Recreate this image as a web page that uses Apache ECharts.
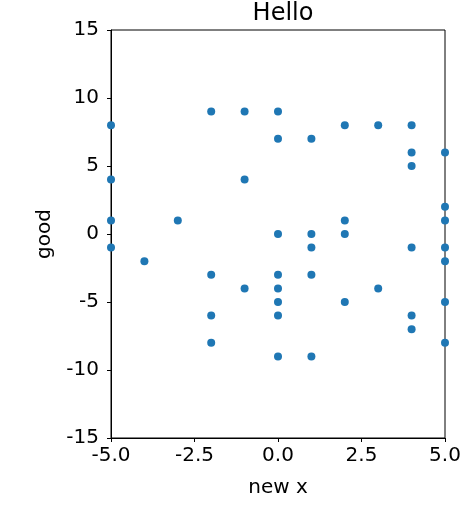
<!DOCTYPE html>
<html><head><meta charset="utf-8">
<script src="https://cdn.jsdelivr.net/npm/echarts@6/dist/echarts.min.js"></script>
<style>html,body{margin:0;padding:0;background:#fff}#c{width:469px;height:511px}</style>
</head><body><div id="c"></div>
<script>
const xValues = [-5,-5,-5,-5,-4,-3,-2,-2,-2,-2,-1,-1,-1,0,0,0,0,0,0,0,0,1,1,1,1,1,2,2,2,2,3,3,4,4,4,4,4,4,5,5,5,5,5,5,5];
const yValues = [8,4,1,-1,-2,1,9,-3,-6,-8,9,4,-4,9,7,0,-3,-4,-5,-6,-9,7,0,-1,-3,-9,8,1,0,-5,8,-4,8,6,5,-1,-6,-7,6,2,1,-1,-2,-5,-8];
const xTicks = [-5,-2.5,0,2.5,5];
const yTicks = [-15,-10,-5,0,5,10,15];
const chart = echarts.init(document.getElementById('c'));
const font = 'DejaVu Sans';
chart.setOption({
  animation:false,
  title:{text:'Hello',left:278,top:-3,textAlign:'center',textStyle:{fontFamily:font,fontSize:24,fontWeight:'normal',color:'#000'}},
  grid:{left:111,right:24,top:30,bottom:73,show:true,borderColor:'#000',borderWidth:1},
  xAxis:{type:'value',min:-5,max:5,interval:2.5,name:'new x',nameLocation:'middle',nameGap:40,
    nameTextStyle:{fontFamily:font,fontSize:20,color:'#000'},
    axisLine:{onZero:false,lineStyle:{color:'#000'}},axisTick:{show:true,inside:false,length:4,lineStyle:{color:'#000'}},
    axisLabel:{fontFamily:font,fontSize:20,color:'#000',margin:8,formatter:v=>v.toFixed(1),showMinLabel:true,showMaxLabel:true},
    splitLine:{show:false}},
  yAxis:{type:'value',min:-15,max:15,interval:5,name:'good',nameLocation:'middle',nameGap:56,
    nameTextStyle:{fontFamily:font,fontSize:20,color:'#000'},
    axisLine:{show:true,onZero:false,lineStyle:{color:'#000'}},axisTick:{show:true,inside:false,length:4,lineStyle:{color:'#000'}},
    axisLabel:{fontFamily:font,fontSize:20,color:'#000',margin:12},
    splitLine:{show:false}},
  series:[{type:'scatter',symbolSize:8,itemStyle:{color:'#1f77b4',opacity:1},
    data:xValues.map((x,i)=>[x,yValues[i]]),clip:true}]
});
</script></body></html>
